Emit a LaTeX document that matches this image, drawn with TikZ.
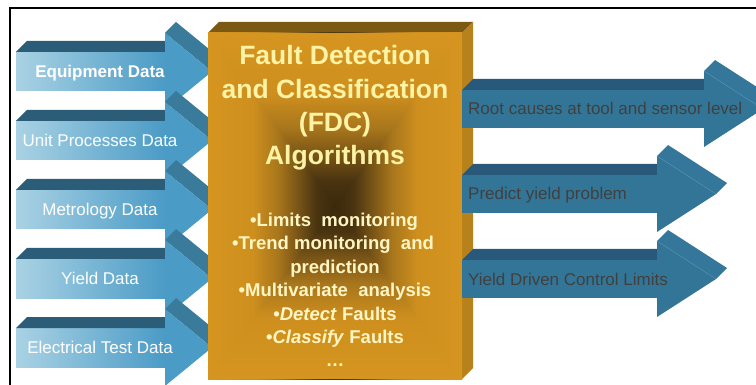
\documentclass[tikz,border=0pt]{standalone}
\usepackage{fontspec}
\setmainfont{Liberation Sans}
\definecolor{lbl}{HTML}{AAD2E4}
\definecolor{lbd}{HTML}{4A9BC6}
\definecolor{ltop}{HTML}{2B5C78}
\definecolor{lhead}{HTML}{4A9CC7}
\definecolor{lheadtop}{HTML}{3A7B9C}
\definecolor{rbody}{HTML}{337596}
\definecolor{rtop}{HTML}{28597A}
\definecolor{rheadtop}{HTML}{34779A}
\definecolor{rline}{HTML}{4A8CB0}
\definecolor{bxor}{HTML}{D6951F}
\definecolor{bxor2}{HTML}{CE8F1E}
\definecolor{bxor3}{HTML}{A8761C}
\definecolor{bxmid}{HTML}{7A5516}
\definecolor{bxdk}{HTML}{4A3410}
\definecolor{bxdark}{HTML}{3A290C}
\definecolor{bxtop}{HTML}{7C5913}
\definecolor{bxside}{HTML}{B7821B}
\definecolor{titlecol}{HTML}{FFF3A6}
\definecolor{bulletcol}{HTML}{FFF6C4}
\definecolor{rtextcol}{HTML}{404040}
\pgfdeclareverticalshading{boxv}{100bp}{color(0bp)=(bxdark); color(25bp)=(bxdark); color(32.5bp)=(bxdk); color(40bp)=(bxmid); color(47.5bp)=(bxor3); color(57.5bp)=(bxor2); color(75bp)=(bxor); color(100bp)=(bxor)}
\tikzset{
  ltext/.style={font=\fontsize{17}{20}\selectfont, text=white, anchor=base, inner sep=0pt},
  rtext/.style={font=\fontsize{17}{20}\selectfont, text=rtextcol, anchor=base west, inner sep=0pt},
  ttext/.style={font=\fontsize{26.5}{30}\selectfont\bfseries, text=titlecol, anchor=base, inner sep=0pt},
  btext/.style={font=\fontsize{18.5}{22}\selectfont\bfseries, text=bulletcol, anchor=base, inner sep=0pt},
}
\newcommand\fdcLArrow[1]{%
  \shade[left color=lbl, right color=lbd] (16,#1-19.5) rectangle (165,#1+19.5);
  \fill[ltop] (16,#1-19.5) -- (165,#1-19.5) -- (176,#1-30.5) -- (27,#1-30.5) -- cycle;
  \fill[lheadtop] (165,#1-38.5) -- (212,#1) -- (223,#1-11) -- (176,#1-49.5) -- cycle;
  \fill[lhead] (165,#1-38.5) -- (212,#1) -- (165,#1+38.5) -- cycle;
}
\newcommand\fdcRArrow[2]{%
  \fill[rbody] (462,#1-19) rectangle (#2,#1+19);
  \fill[rtop] (462,#1-19) -- (#2,#1-19) -- (#2+11,#1-30) -- (473,#1-30) -- cycle;
  \fill[rheadtop] (#2,#1-38) -- (#2+59,#1) -- (#2+70,#1-11) -- (#2+11,#1-49) -- cycle;
  \fill[rbody] (#2,#1-38) -- (#2+59,#1) -- (#2,#1+38) -- cycle;
  \draw[rline, line width=0.6pt] (#2,#1-38) -- (#2+59,#1);
}
\begin{document}
\begin{tikzpicture}[x=1pt,y=-1pt]
\useasboundingbox (0,0) rectangle (756,385);
\fill[white] (0,0) rectangle (756,385);
% frame
\draw[black, line width=1.6pt] (10,385) -- (10,8) -- (756,8);
% left arrows
\fdcLArrow{71.5}
\fdcLArrow{140.5}
\fdcLArrow{209.5}
\fdcLArrow{278.5}
\fdcLArrow{347.5}
% box
\fill[bxtop] (208,33) -- (462,33) -- (473,22) -- (219,22) -- cycle;
\fill[bxside] (462,33) -- (473,22) -- (473,368) -- (462,379) -- cycle;
\shade[shading=boxv, shading angle=90] (208,33) rectangle (335.5,379);
\shade[shading=boxv, shading angle=-90] (334.5,33) rectangle (462,379);
\shade[shading=boxv] (208,33) -- (462,33) -- (335,206) -- cycle;
\shade[shading=boxv, shading angle=180] (208,379) -- (462,379) -- (335,206) -- cycle;
% right arrows
\fdcRArrow{109}{704}
\fdcRArrow{194}{657}
\fdcRArrow{279}{657}
% left texts
\node[ltext, font=\fontsize{17}{20}\selectfont\bfseries] (in1) at (100,77.5) {Equipment Data};
\node[ltext] (in2) at (100,146.5) {Unit Processes Data};
\node[ltext] (in3) at (100,215.5) {Metrology Data};
\node[ltext] (in4) at (100,284.5) {Yield Data};
\node[ltext] (in5) at (100,353.5) {Electrical Test Data};
% title
\node[ttext] (t1) at (335,65) {Fault Detection};
\node[ttext] (t2) at (335,99) {and Classification};
\node[ttext] (t3) at (335,132) {(FDC)};
\node[ttext] (t4) at (335,165) {Algorithms};
% bullets
\node[btext] (b1) at (334,227) {•Limits\ \ monitoring};
\node[btext] (b2) at (333,250) {•Trend monitoring\ \ and};
\node[btext] (b3) at (335,273) {prediction};
\node[btext] (b4) at (335,297) {•Multivariate\ \ analysis};
\node[btext] (b5) at (335,320) {•\textit{Detect} Faults};
\node[btext] (b6) at (335,343) {•\textit{Classify} Faults};
\node[btext] (b7) at (335,366) {…};
% right texts
\node[rtext] (o1) at (468,115) {Root causes at tool and sensor level};
\node[rtext] (o2) at (468,200) {Predict yield problem};
\node[rtext] (o3) at (468,285) {Yield Driven Control Limits};
\end{tikzpicture}
\end{document}
